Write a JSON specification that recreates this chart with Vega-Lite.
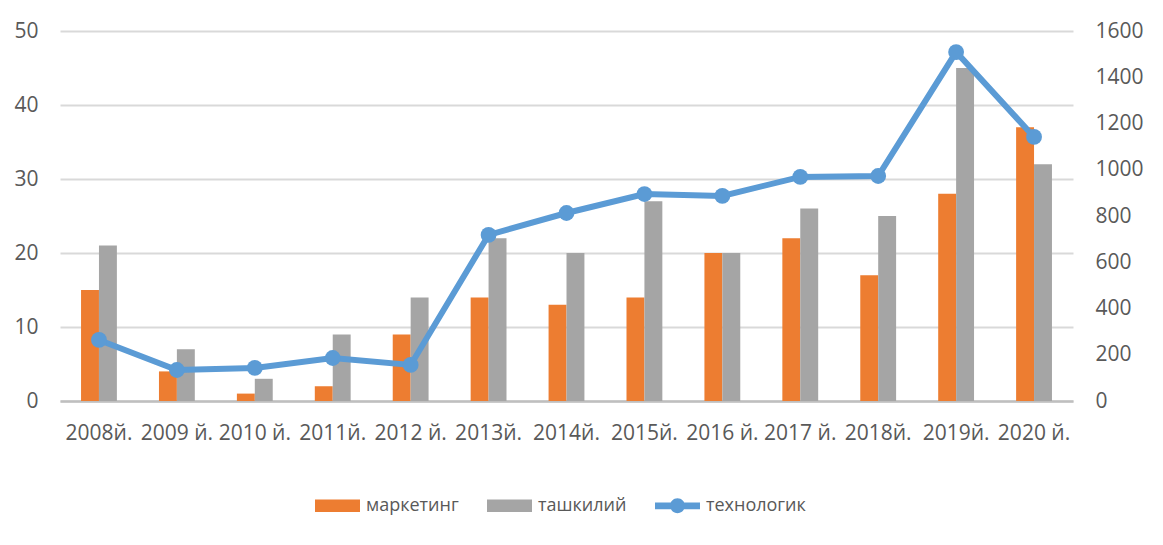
{
  "$schema": "https://vega.github.io/schema/vega-lite/v6.json",
  "width": 1013,
  "height": 370,
  "autosize": {"type": "none"},
  "padding": {"left": 60, "top": 31, "right": 90, "bottom": 144},
  "background": "white",
  "config": {
    "font": "Open Sans",
    "view": {"stroke": null},
    "axis": {"labelFont": "Open Sans", "labelFontSize": 21, "labelColor": "#595959"}
  },
  "data": {
    "values": [
      {"year": "2008й.", "series": "маркетинг", "value": 15},
      {"year": "2008й.", "series": "ташкилий", "value": 21},
      {"year": "2008й.", "series": "технологик", "value": 264},
      {"year": "2009 й.", "series": "маркетинг", "value": 4},
      {"year": "2009 й.", "series": "ташкилий", "value": 7},
      {"year": "2009 й.", "series": "технологик", "value": 134},
      {"year": "2010 й.", "series": "маркетинг", "value": 1},
      {"year": "2010 й.", "series": "ташкилий", "value": 3},
      {"year": "2010 й.", "series": "технологик", "value": 143},
      {"year": "2011й.", "series": "маркетинг", "value": 2},
      {"year": "2011й.", "series": "ташкилий", "value": 9},
      {"year": "2011й.", "series": "технологик", "value": 186},
      {"year": "2012 й.", "series": "маркетинг", "value": 9},
      {"year": "2012 й.", "series": "ташкилий", "value": 14},
      {"year": "2012 й.", "series": "технологик", "value": 156},
      {"year": "2013й.", "series": "маркетинг", "value": 14},
      {"year": "2013й.", "series": "ташкилий", "value": 22},
      {"year": "2013й.", "series": "технологик", "value": 718},
      {"year": "2014й.", "series": "маркетинг", "value": 13},
      {"year": "2014й.", "series": "ташкилий", "value": 20},
      {"year": "2014й.", "series": "технологик", "value": 813},
      {"year": "2015й.", "series": "маркетинг", "value": 14},
      {"year": "2015й.", "series": "ташкилий", "value": 27},
      {"year": "2015й.", "series": "технологик", "value": 895},
      {"year": "2016 й.", "series": "маркетинг", "value": 20},
      {"year": "2016 й.", "series": "ташкилий", "value": 20},
      {"year": "2016 й.", "series": "технологик", "value": 887},
      {"year": "2017 й.", "series": "маркетинг", "value": 22},
      {"year": "2017 й.", "series": "ташкилий", "value": 26},
      {"year": "2017 й.", "series": "технологик", "value": 969},
      {"year": "2018й.", "series": "маркетинг", "value": 17},
      {"year": "2018й.", "series": "ташкилий", "value": 25},
      {"year": "2018й.", "series": "технологик", "value": 973},
      {"year": "2019й.", "series": "маркетинг", "value": 28},
      {"year": "2019й.", "series": "ташкилий", "value": 45},
      {"year": "2019й.", "series": "технологик", "value": 1509},
      {"year": "2020 й.", "series": "маркетинг", "value": 37},
      {"year": "2020 й.", "series": "ташкилий", "value": 32},
      {"year": "2020 й.", "series": "технологик", "value": 1142}
    ]
  },
  "encoding": {
    "x": {
      "field": "year",
      "type": "nominal",
      "sort": null,
      "scale": {"paddingInner": 0.54, "paddingOuter": 0.27},
      "axis": {
        "title": null,
        "labelAngle": 0,
        "labelOverlap": false,
        "labelBound": false,
        "ticks": false,
        "labelPadding": 21,
        "domainColor": "#BFBFBF",
        "domainWidth": 2.5,
        "grid": false
      }
    },
    "color": {
      "field": "series",
      "type": "nominal",
      "scale": {"domain": ["маркетинг", "ташкилий", "технологик"], "range": ["#ED7D31", "#A5A5A5", "#5B9BD5"]},
      "legend": {
        "title": null,
        "orient": "none",
        "direction": "horizontal",
        "legendX": 255,
        "legendY": 452,
        "labelFont": "Open Sans",
        "labelFontSize": 18,
        "labelColor": "#595959",
        "labelOffset": 6,
        "columnPadding": 28,
        "symbolSize": 2025,
        "symbolStrokeWidth": 0,
        "encode": {
          "symbols": {
            "update": {
              "shape": {"signal": "datum.value === 'технологик' ? 'M-1,-0.15 H1 V0.15 H-1 Z M-0.33,0 A0.33,0.33 0 1,1 0.33,0 A0.33,0.33 0 1,1 -0.33,0 Z' : 'M-1,-0.28 H1 V0.28 H-1 Z'"},
              "fill": {"scale": "color", "field": "value"},
              "strokeWidth": {"value": 0},
              "opacity": {"value": 1}
            }
          }
        }
      }
    }
  },
  "layer": [
    {
      "transform": [{"filter": "datum.series !== 'технологик'"}],
      "mark": {"type": "bar"},
      "encoding": {
        "xOffset": {"field": "series", "type": "nominal", "scale": {"paddingInner": 0, "paddingOuter": 0}},
        "y": {
          "field": "value",
          "type": "quantitative",
          "scale": {"domain": [0, 50]},
          "axis": {
            "title": null,
            "values": [0, 10, 20, 30, 40, 50],
            "domain": false,
            "ticks": false,
            "labelPadding": 22,
            "gridColor": "#D9D9D9",
            "gridWidth": 2
          }
        }
      }
    },
    {
      "transform": [{"filter": "datum.series === 'технологик'"}],
      "mark": {"type": "line", "strokeWidth": 6, "point": {"size": 250, "filled": true}},
      "encoding": {
        "y": {
          "field": "value",
          "type": "quantitative",
          "scale": {"domain": [0, 1600]},
          "axis": {
            "title": null,
            "orient": "right",
            "format": "d",
            "values": [0, 200, 400, 600, 800, 1000, 1200, 1400, 1600],
            "domain": false,
            "ticks": false,
            "grid": false,
            "labelPadding": 22
          }
        }
      }
    }
  ],
  "resolve": {"scale": {"y": "independent"}}
}
